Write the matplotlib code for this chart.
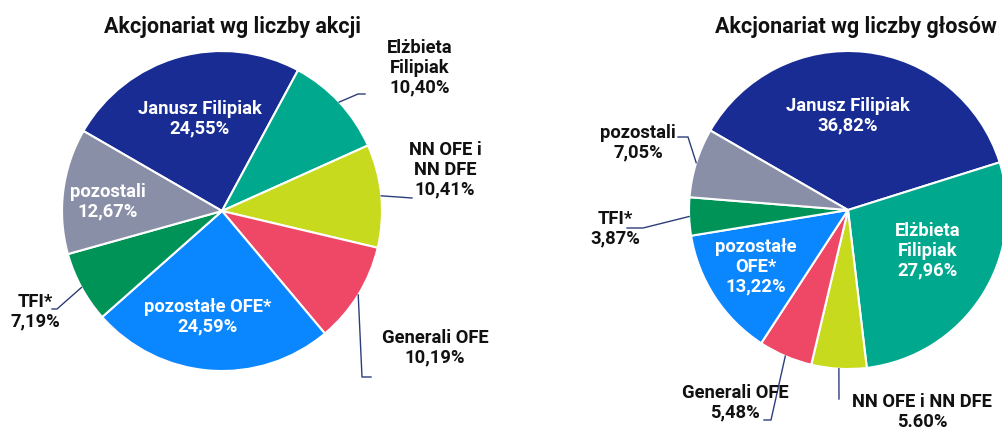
import matplotlib
matplotlib.use("Agg")
import matplotlib.pyplot as plt
import numpy as np

plt.rcParams['font.family'] = ['Roboto', 'DejaVu Sans']
plt.rcParams['font.weight'] = 'bold'

# dane - akcjonariat wg liczby akcji
udzialy_akcje = [24.55, 10.40, 10.41, 10.19, 24.59, 7.19, 12.67]
etykiety_akcje = ["Janusz Filipiak\n24,55%", "Elżbieta\nFilipiak\n10,40%",
                  "NN OFE i\nNN DFE\n10,41%", "Generali OFE\n10,19%",
                  "pozostałe OFE*\n24,59%", "TFI*\n7,19%", "pozostali\n12,67%"]

# dane - akcjonariat wg liczby glosow
udzialy_glosy = [36.82, 27.96, 5.60, 5.48, 13.22, 3.87, 7.05]
etykiety_glosy = ["Janusz Filipiak\n36,82%", "Elżbieta\nFilipiak\n27,96%",
                  "NN OFE i NN DFE\n5.60%", "Generali OFE\n5,48%",
                  "pozostałe\nOFE*\n13,22%", "TFI*\n3,87%", "pozostali\n7,05%"]

kolory = ["#182c94", "#00a88e", "#c8da1e", "#ee4866", "#0a86ff", "#009358", "#8a8fa8"]
kolor_linii = "#2c3e7a"

W, H = 1002, 430
fig = plt.figure(figsize=(W / 100, H / 100), dpi=100)
ax = fig.add_axes([0, 0, 1, 1])


def rysuj(ax, wartosci, etykiety, srodek, r, tytul, tytul_xy, teksty, linie):
    # y-axis is inverted, so counterclockwise in data == clockwise on screen
    wedges, _ = ax.pie(wartosci, colors=kolory, startangle=-150, counterclock=True,
                       center=srodek, radius=r,
                       wedgeprops=dict(edgecolor="white", linewidth=1.5))
    ax.text(tytul_xy[0], tytul_xy[1], tytul, ha="center", va="center",
            fontsize=15.5, fontweight="bold", color="#111111")
    for i, w in enumerate(wedges):
        x, y, kolor = teksty[i]
        ax.text(x, y, etykiety[i], ha="center", va="center", fontsize=13.2,
                fontweight="bold", color=kolor, linespacing=1.12)
        if i in linie:
            mid = np.deg2rad((w.theta1 + w.theta2) / 2)
            px = srodek[0] + r * np.cos(mid)
            py = srodek[1] + r * np.sin(mid)
            pts = [(px, py)] + linie[i]
            ax.plot([p[0] for p in pts], [p[1] for p in pts], color=kolor_linii, lw=1)


rysuj(ax, udzialy_akcje, etykiety_akcje, (222, 211), 160,
      "Akcjonariat wg liczby akcji", (232, 27),
      [(200, 119, "white"), (420, 68, "#111111"), (445, 170, "#111111"),
       (435, 348, "#111111"), (208, 317, "white"), (35, 312, "#111111"),
       (108, 202, "white")],
      {1: [(358, 94), (365, 94)], 2: [(398, 197), (412, 198)],
       3: [(362, 377), (371, 377)], 5: [(57, 309), (52, 309)]})

rysuj(ax, udzialy_glosy, etykiety_glosy, (848, 210), 159,
      "Akcjonariat wg liczby głosów", (856, 27),
      [(848, 116, "white"), (928, 251, "white"), (922, 412, "#111111"),
       (735, 403, "#111111"), (756, 267, "white"), (615, 229, "#111111"),
       (638, 143, "#111111")],
      {2: [(839, 399)], 3: [(771, 420), (764, 420)],
       5: [(643, 228), (627, 228)], 6: [(688, 137), (678, 137)]})

ax.set_xlim(0, W)
ax.set_ylim(H, 0)
ax.set_axis_off()

fig.savefig("out.png", dpi=100, facecolor="white")
